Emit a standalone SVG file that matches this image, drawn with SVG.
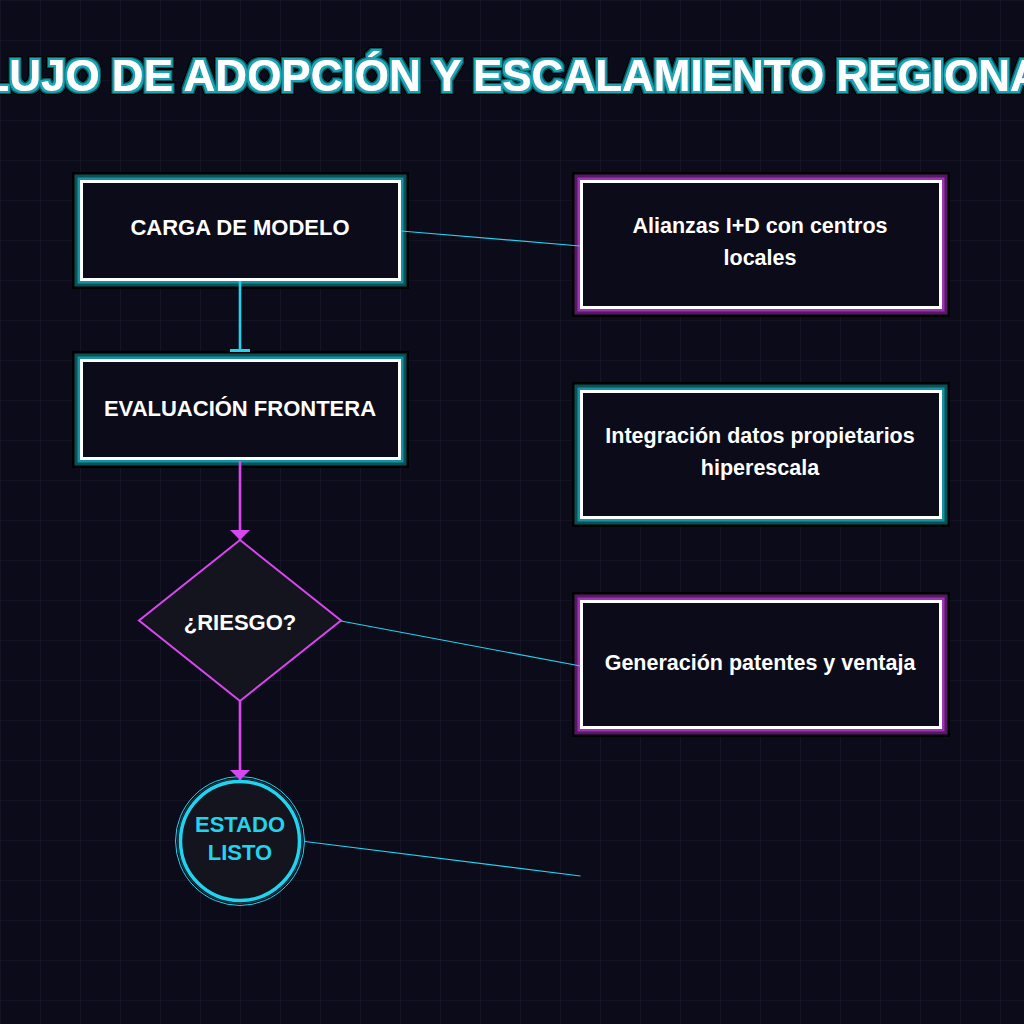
<svg xmlns="http://www.w3.org/2000/svg" width="1024" height="1024" viewBox="0 0 1024 1024">
  <defs>
    <pattern id="grid" width="40" height="40" patternUnits="userSpaceOnUse">
      <path d="M40 0 L0 0 L0 40" fill="none" stroke="#1b1b2e" stroke-width="1.2"/>
    </pattern>
    <filter id="titleGlow" x="-10%" y="-40%" width="120%" height="180%">
      <feMorphology in="SourceAlpha" operator="dilate" radius="4" result="d4"/>
      <feFlood flood-color="#000000" result="f4"/>
      <feComposite in="f4" in2="d4" operator="in" result="c4"/>
      <feMorphology in="SourceAlpha" operator="dilate" radius="3" result="d3"/>
      <feFlood flood-color="#0b5a63" result="f3"/>
      <feComposite in="f3" in2="d3" operator="in" result="c3"/>
      <feMorphology in="SourceAlpha" operator="dilate" radius="1.6" result="d2"/>
      <feFlood flood-color="#1aa5b4" result="f2"/>
      <feComposite in="f2" in2="d2" operator="in" result="c2"/>
      <feMerge>
        <feMergeNode in="c4"/>
        <feMergeNode in="c3"/>
        <feMergeNode in="c2"/>
        <feMergeNode in="SourceGraphic"/>
      </feMerge>
    </filter>
    <marker id="arrowM" viewBox="0 0 10 20" refX="10" refY="10" markerWidth="10" markerHeight="20" markerUnits="userSpaceOnUse" orient="auto">
      <path d="M0 0 L10 10 L0 20 Z" fill="#d946ef"/>
    </marker>
    <marker id="teeC" viewBox="0 0 3 20" refX="1.5" refY="10" markerWidth="3" markerHeight="20" markerUnits="userSpaceOnUse" orient="auto">
      <rect x="0" y="0" width="3" height="20" fill="#22d3ee"/>
    </marker>
    <style>
      .txt { font-family: "Liberation Sans", Arial, sans-serif; font-weight: bold; text-anchor: middle; }
      .title { font-size: 44px; fill: #ffffff; }
      .lbl { font-size: 22px; fill: #ffffff; }
      .lbl2 { font-size: 21.5px; fill: #ffffff; }
      .cyanTxt { font-size: 22px; fill: #22d3ee; }
      .g-black { fill: none; stroke: #000000; stroke-width: 19; }
      .t-dark { fill: none; stroke: #0b5058; stroke-width: 14; }
      .t-mid { fill: none; stroke: #1593a0; stroke-width: 8; }
      .p-dark { fill: none; stroke: #571868; stroke-width: 14; }
      .p-mid { fill: none; stroke: #9b35b0; stroke-width: 8; }
      .core { fill: #0b0b1a; stroke: #ffffff; stroke-width: 3; }
      .thin { fill: none; stroke: #22d3ee; stroke-width: 1.2; }
      .flowC { fill: none; stroke: #22d3ee; stroke-width: 2.6; }
      .flowM { fill: none; stroke: #d946ef; stroke-width: 2.6; }
    </style>
  </defs>

  <rect x="0" y="0" width="1024" height="1024" fill="#0b0b1a"/>
  <rect x="0" y="0" width="1024" height="1024" fill="url(#grid)"/>

  <text class="txt title" x="512" y="91" filter="url(#titleGlow)">FLUJO DE ADOPCIÓN Y ESCALAMIENTO REGIONAL</text>

  <g id="carga">
    <rect class="g-black" x="81.5" y="181.5" width="318" height="98"/>
    <rect class="t-dark" x="81.5" y="181.5" width="318" height="98"/>
    <rect class="t-mid" x="81.5" y="181.5" width="318" height="98"/>
    <rect class="core" x="81.5" y="181.5" width="318" height="98"/>
    <text class="txt lbl" x="240" y="235">CARGA DE MODELO</text>
  </g>

  <g id="evaluacion">
    <rect class="g-black" x="81.5" y="360.5" width="318" height="98"/>
    <rect class="t-dark" x="81.5" y="360.5" width="318" height="98"/>
    <rect class="t-mid" x="81.5" y="360.5" width="318" height="98"/>
    <rect class="core" x="81.5" y="360.5" width="318" height="98"/>
    <text class="txt lbl" x="240" y="415.5">EVALUACIÓN FRONTERA</text>
  </g>

  <g id="riesgo">
    <polygon points="240,540 341,620.5 240,701 139,620.5" fill="#14141f" stroke="#d946ef" stroke-width="2"/>
    <text class="txt lbl" x="240" y="630">¿RIESGO?</text>
  </g>

  <g id="estado">
    <circle cx="240" cy="841" r="64.5" fill="none" stroke="#22d3ee" stroke-width="1"/>
    <circle cx="240" cy="841" r="62.5" fill="none" stroke="#22d3ee" stroke-width="0.6" opacity="0.5"/>
    <circle cx="240" cy="841" r="59.5" fill="#14141f" stroke="#22d3ee" stroke-width="3.5"/>
    <text class="txt cyanTxt" x="240" y="831.5">ESTADO</text>
    <text class="txt cyanTxt" x="240" y="859.5">LISTO</text>
  </g>

  <g id="alianzas">
    <rect class="g-black" x="581.5" y="181.5" width="359" height="126"/>
    <rect class="p-dark" x="581.5" y="181.5" width="359" height="126"/>
    <rect class="p-mid" x="581.5" y="181.5" width="359" height="126"/>
    <rect class="core" x="581.5" y="181.5" width="359" height="126"/>
    <text class="txt lbl2" x="760" y="232.5">Alianzas I+D con centros</text>
    <text class="txt lbl2" x="760" y="264.5">locales</text>
  </g>

  <g id="integracion">
    <rect class="g-black" x="581.5" y="391.5" width="359" height="126"/>
    <rect class="t-dark" x="581.5" y="391.5" width="359" height="126"/>
    <rect class="t-mid" x="581.5" y="391.5" width="359" height="126"/>
    <rect class="core" x="581.5" y="391.5" width="359" height="126"/>
    <text class="txt lbl2" x="760" y="442.5">Integración datos propietarios</text>
    <text class="txt lbl2" x="760" y="474.5">hiperescala</text>
  </g>

  <g id="generacion">
    <rect class="g-black" x="581.5" y="601.5" width="359" height="126"/>
    <rect class="p-dark" x="581.5" y="601.5" width="359" height="126"/>
    <rect class="p-mid" x="581.5" y="601.5" width="359" height="126"/>
    <rect class="core" x="581.5" y="601.5" width="359" height="126"/>
    <text class="txt lbl2" x="760" y="669.5">Generación patentes y ventaja</text>
  </g>

  <g id="connectors">
    <line class="flowC" x1="240" y1="281" x2="240" y2="350.5" marker-end="url(#teeC)"/>
    <line class="flowM" x1="240" y1="461" x2="240" y2="540" marker-end="url(#arrowM)"/>
    <line class="flowM" x1="240" y1="701" x2="240" y2="780" marker-end="url(#arrowM)"/>
    <line class="thin" x1="401" y1="231" x2="580" y2="246"/>
    <line class="thin" x1="341" y1="621" x2="580.5" y2="666"/>
    <line class="thin" x1="305" y1="841.5" x2="580.5" y2="876"/>
  </g>
</svg>
